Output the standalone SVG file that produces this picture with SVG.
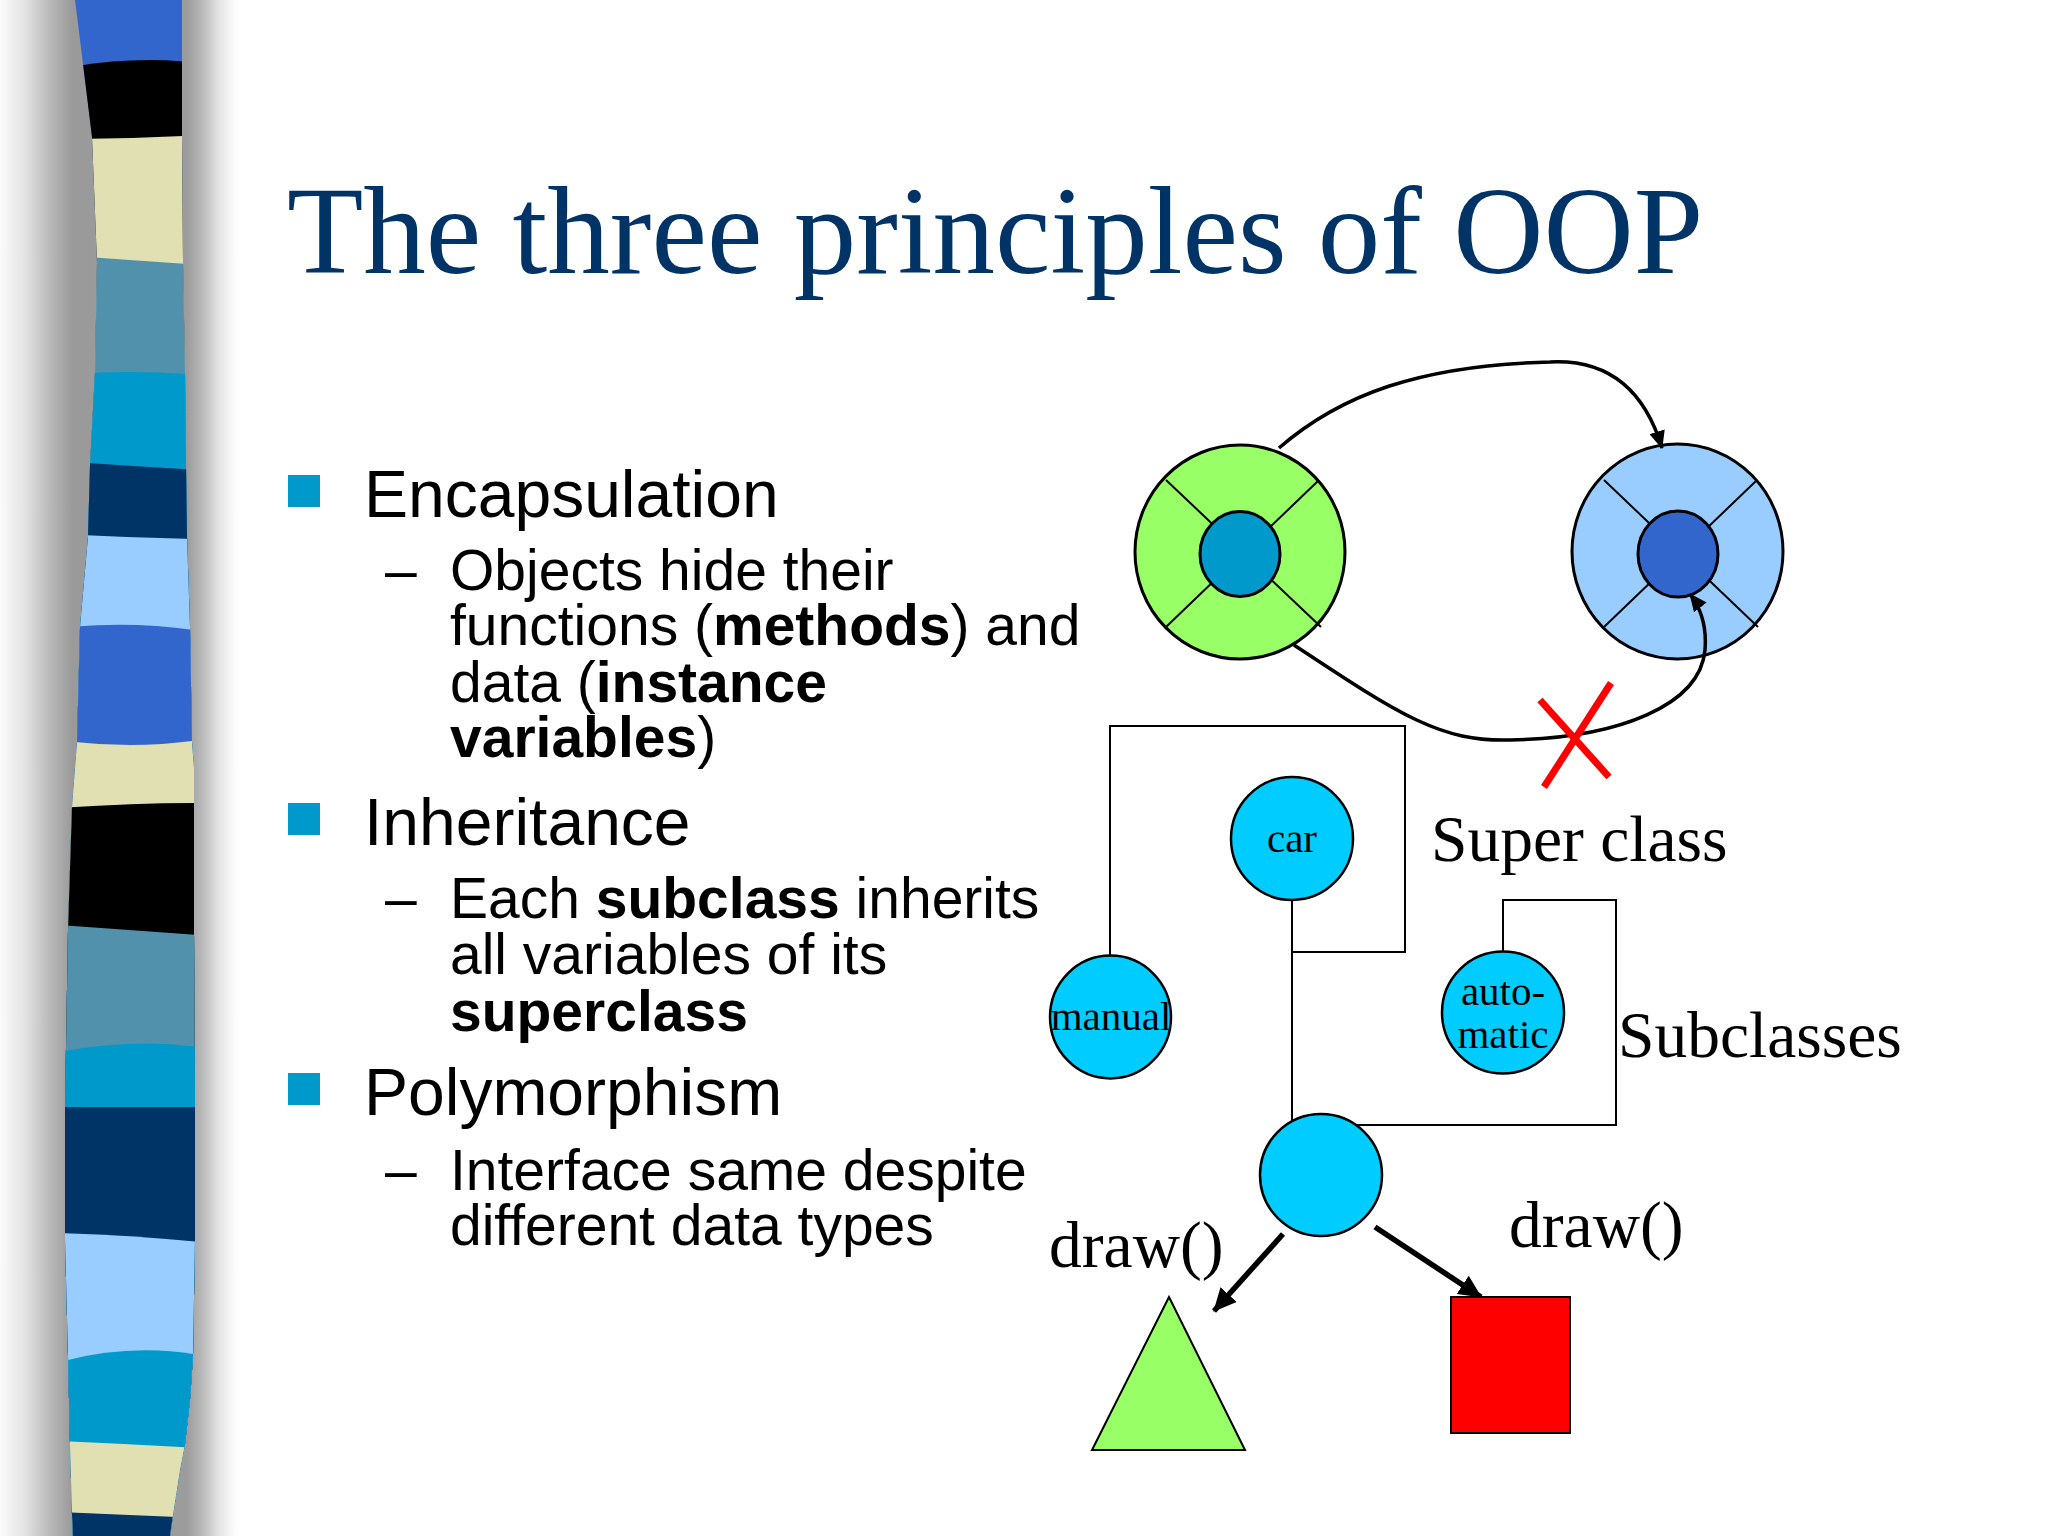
<svg xmlns="http://www.w3.org/2000/svg" width="2048" height="1536" viewBox="0 0 2048 1536">
<defs>
<linearGradient id="shadow" x1="0" y1="0" x2="1" y2="0">
<stop offset="0" stop-color="#fbfbfb"/>
<stop offset="0.1" stop-color="#e4e4e4"/>
<stop offset="0.22" stop-color="#b4b4b4"/>
<stop offset="0.3" stop-color="#9a9a9a"/>
<stop offset="0.78" stop-color="#9c9c9c"/>
<stop offset="0.84" stop-color="#b8b8b8"/>
<stop offset="0.91" stop-color="#e2e2e2"/>
<stop offset="0.98" stop-color="#fdfdfd"/>
<stop offset="1" stop-color="#ffffff"/>
</linearGradient>
<clipPath id="stripClip">
<path d="M75,0 L83,64 L92,137 L97,262 L95,372 L90,466 L88,537 L80,627 L77,743 L75,768 L72,807 L68,930 L66,1047 L65,1107 L65,1239 L68,1356 L70,1444 L72,1515 L73,1536 L170,1536 L173,1515 L180,1470 L185,1444 L190,1400 L193,1356 L195,1239 L195,1107 L194,930 L194,768 L192,743 L190,627 L187,537 L186,466 L185,372 L183,262 L182,137 L182,0 Z"/>
</clipPath>
<marker id="ahThin" markerUnits="userSpaceOnUse" markerWidth="20" markerHeight="16" refX="17" refY="8" orient="auto">
<path d="M0,0 L18,8 L0,16 Z" fill="#000"/>
</marker>
<marker id="ahThick" markerUnits="userSpaceOnUse" markerWidth="24" markerHeight="22" refX="22" refY="11" orient="auto">
<path d="M0,0 L23,11 L0,22 Z" fill="#000"/>
</marker>
<style>
.title{font-family:"Liberation Serif","Times New Roman",serif;font-size:125px;fill:#003366}
.l1{font-family:"Liberation Sans",Arial,sans-serif;font-size:66px;fill:#000}
.l2{font-family:"Liberation Sans",Arial,sans-serif;font-size:57px;fill:#000}
.b{font-weight:bold}
.bullet{fill:#0099CC}
.lbl{font-family:"Liberation Serif","Times New Roman",serif;font-size:65.5px;fill:#000}
.nlbl{font-family:"Liberation Serif","Times New Roman",serif;font-size:41px;fill:#000;text-anchor:middle}
.ring{stroke:#000;stroke-width:3}
.spoke{stroke:#000;stroke-width:2;fill:none}
.node{fill:#00CCFF;stroke:#000;stroke-width:2.5}
.box{fill:none;stroke:#000;stroke-width:2}
.curve{fill:none;stroke:#000;stroke-width:3.5}
.thick{fill:none;stroke:#000;stroke-width:5.5}
</style>
</defs>
<rect width="2048" height="1536" fill="#ffffff"/>
<g id="side-strip">
<rect x="0" y="0" width="240" height="1536" fill="url(#shadow)"/>
<g clip-path="url(#stripClip)">
<path d="M40,-10 L230,-10 L230,1540 L40,1540 Z" fill="#3366CC"/>
<path d="M60,69 Q130,55 200,63 L200,1540 L60,1540 Z" fill="#000000"/>
<path d="M60,139 Q130,139 200,135 L200,1540 L60,1540 Z" fill="#E0E0B3"/>
<path d="M60,255 Q130,260 200,265 L200,1540 L60,1540 Z" fill="#5291AB"/>
<path d="M60,375 Q130,369 200,375 L200,1540 L60,1540 Z" fill="#0099CC"/>
<path d="M60,461 Q130,466 200,470 L200,1540 L60,1540 Z" fill="#003366"/>
<path d="M60,534 Q130,538 200,539 L200,1540 L60,1540 Z" fill="#99CCFF"/>
<path d="M60,628 Q130,620 200,631 L200,1540 L60,1540 Z" fill="#3366CC"/>
<path d="M60,740 Q130,750 200,740 L200,1540 L60,1540 Z" fill="#E0E0B3"/>
<path d="M60,808 Q130,803 200,803 L200,1540 L60,1540 Z" fill="#000000"/>
<path d="M60,925 Q130,930 200,935 L200,1540 L60,1540 Z" fill="#5291AB"/>
<path d="M60,1052 Q130,1038 200,1047 L200,1540 L60,1540 Z" fill="#0099CC"/>
<path d="M60,1107 L200,1107 L200,1540 L60,1540 Z" fill="#003366"/>
<path d="M60,1233 Q130,1235 200,1242 L200,1540 L60,1540 Z" fill="#99CCFF"/>
<path d="M60,1362 Q130,1343 200,1355 L200,1540 L60,1540 Z" fill="#0099CC"/>
<path d="M60,1441 Q130,1444 200,1448 L200,1540 L60,1540 Z" fill="#E0E0B3"/>
<path d="M60,1512 Q130,1515 200,1518 L200,1540 L60,1540 Z" fill="#003366"/>
</g>
</g>
<text id="title" class="title" x="287" y="273">The three principles of OOP</text>
<g id="bullets">
<rect class="bullet" x="288" y="475" width="32" height="32"/>
<text class="l1" x="364" y="517">Encapsulation</text>
<text class="l2" x="385" y="590">–</text>
<text class="l2" x="450" y="590">Objects hide their</text>
<text class="l2" x="450" y="645">functions (<tspan class="b">methods</tspan>) and</text>
<text class="l2" x="450" y="702">data (<tspan class="b">instance</tspan></text>
<text class="l2" x="450" y="757"><tspan class="b">variables</tspan>)</text>
<rect class="bullet" x="288" y="803" width="32" height="32"/>
<text class="l1" x="364" y="845">Inheritance</text>
<text class="l2" x="385" y="918">–</text>
<text class="l2" x="450" y="918">Each <tspan class="b">subclass</tspan> inherits</text>
<text class="l2" x="450" y="974">all variables of its</text>
<text class="l2" x="450" y="1031"><tspan class="b">superclass</tspan></text>
<rect class="bullet" x="288" y="1073" width="32" height="32"/>
<text class="l1" x="364" y="1115">Polymorphism</text>
<text class="l2" x="385" y="1190">–</text>
<text class="l2" x="450" y="1190">Interface same despite</text>
<text class="l2" x="450" y="1245">different data types</text>
</g>
<g id="node-object-green">
<ellipse class="ring" cx="1240" cy="552" rx="105" ry="107" fill="#99FF66"/>
<line class="spoke" x1="1166" y1="480" x2="1321" y2="627"/>
<line class="spoke" x1="1318" y1="481" x2="1166" y2="627"/>
<ellipse class="ring" cx="1240" cy="554" rx="40" ry="42.5" fill="#0099CC" stroke-width="2.5"/>
</g>
<g id="node-object-blue">
<ellipse class="ring" cx="1677.5" cy="551.5" rx="105.5" ry="107.5" fill="#99CCFF"/>
<line class="spoke" x1="1604" y1="480" x2="1758" y2="627"/>
<line class="spoke" x1="1756" y1="481" x2="1604" y2="627"/>
<ellipse class="ring" cx="1678" cy="554" rx="40" ry="43" fill="#3366CC" stroke-width="2.5"/>
</g>
<g id="connectors">
<path class="curve" d="M1279,448 C1340,395 1420,365 1550,362 C1610,359 1645,392 1662,448" marker-end="url(#ahThin)"/>
<path class="curve" d="M1294,645 C1400,715 1440,742 1510,740 C1620,738 1700,705 1705,650 C1707,625 1700,607 1690,594" marker-end="url(#ahThin)"/>
<polyline class="box" points="1110,955 1110,726 1405,726 1405,952 1292,952"/>
<line class="box" x1="1292" y1="900" x2="1292" y2="1170"/>
<polyline class="box" points="1503,952 1503,900 1616,900 1616,1125 1321,1125"/>
<line class="thick" x1="1283" y1="1234" x2="1214" y2="1311" marker-end="url(#ahThick)"/>
<line class="thick" x1="1375" y1="1227" x2="1481" y2="1297" marker-end="url(#ahThick)"/>
</g>
<g id="blocked-mark">
<line x1="1540" y1="700" x2="1609" y2="777" stroke="#FF0000" stroke-width="7"/>
<line x1="1611" y1="683" x2="1544" y2="787" stroke="#FF0000" stroke-width="7"/>
</g>
<g id="node-car">
<ellipse class="node" cx="1292" cy="838.5" rx="61" ry="61.5"/>
<text class="nlbl" x="1292" y="852">car</text>
</g>
<g id="node-manual">
<ellipse class="node" cx="1110.5" cy="1017" rx="60.5" ry="61.5"/>
<text class="nlbl" x="1111" y="1030">manual</text>
</g>
<g id="node-automatic">
<ellipse class="node" cx="1503" cy="1012.5" rx="61" ry="61"/>
<text class="nlbl" x="1503" y="1005">auto-</text>
<text class="nlbl" x="1503" y="1048">matic</text>
</g>
<g id="node-shape">
<ellipse class="node" cx="1321" cy="1175" rx="61" ry="61"/>
</g>
<g id="node-triangle">
<polygon points="1169,1297 1092,1450 1245,1450" fill="#99FF66" stroke="#000" stroke-width="2"/>
</g>
<g id="node-square">
<rect x="1451" y="1297" width="119" height="136" fill="#FF0000" stroke="#000" stroke-width="2"/>
</g>
<g id="labels">
<text class="lbl" x="1431" y="861">Super class</text>
<text class="lbl" x="1618" y="1057">Subclasses</text>
<text class="lbl" x="1049" y="1267">draw()</text>
<text class="lbl" x="1509" y="1247">draw()</text>
</g>
</svg>
